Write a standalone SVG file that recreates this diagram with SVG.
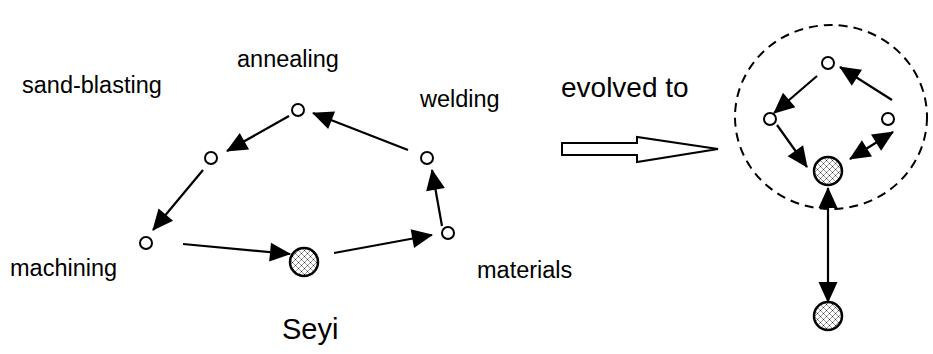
<svg xmlns="http://www.w3.org/2000/svg" width="933" height="354" viewBox="0 0 933 354">
  <style>
    .lbl { font-family: "Liberation Sans", Arial, sans-serif; font-size: 23.5px; fill: #000; }
    .node { fill: #fff; stroke: #000; stroke-width: 2; }
    .hub { fill: url(#dots); stroke: #000; stroke-width: 2.5; }
    .edge { fill: none; stroke: #000; stroke-width: 2.2; marker-end: url(#head); }
    .both { marker-start: url(#head); }
  </style>
  <defs>
    <marker id="head" markerUnits="userSpaceOnUse" markerWidth="21" markerHeight="19" refX="20" refY="9.5" orient="auto-start-reverse" overflow="visible">
      <path d="M0,0 L21,9.5 L0,19 z" fill="#000"/>
    </marker>
    <pattern id="dots" patternUnits="userSpaceOnUse" width="6" height="6">
      <rect width="6" height="6" fill="#fff"/>
      <path d="M0.5,0.5 L2.5,2.5 M2.5,0.5 L0.5,2.5 M3.5,3.5 L5.5,5.5 M5.5,3.5 L3.5,5.5" stroke="#333" stroke-width="1"/>
    </pattern>
  </defs>

  <!-- labels -->
  <text class="lbl" x="22" y="93">sand-blasting</text>
  <text class="lbl" x="237" y="67">annealing</text>
  <text class="lbl" x="420" y="107">welding</text>
  <text class="lbl" x="10" y="276">machining</text>
  <text class="lbl" x="477" y="278">materials</text>
  <text class="lbl" x="282" y="339" style="font-size:29px">Seyi</text>
  <text class="lbl" x="561" y="97" style="font-size:28px">evolved to</text>

  <!-- connectors -->
  <g id="connectors">
    <line class="edge" x1="289" y1="116" x2="227" y2="151"/>
    <line class="edge" x1="203" y1="170" x2="153" y2="230"/>
    <line class="edge" x1="183" y1="244" x2="290" y2="254"/>
    <line class="edge" x1="334" y1="253" x2="432" y2="235"/>
    <line class="edge" x1="442" y1="226" x2="432" y2="170"/>
    <line class="edge" x1="408" y1="150" x2="313" y2="113"/>
    <line class="edge" x1="892" y1="100" x2="840" y2="67"/>
    <line class="edge" x1="817" y1="76" x2="774" y2="113"/>
    <line class="edge" x1="777" y1="125" x2="807" y2="167"/>
    <line class="edge both" x1="850" y1="159" x2="893" y2="132"/>
    <line class="edge both" x1="828" y1="188" x2="828" y2="302"/>
    <!-- hollow "evolved to" arrow -->
    <path d="M562,143 L637,143 L637,137 L718,149 L637,162 L637,155 L562,155 z" fill="#fff" stroke="#000" stroke-width="2"/>
  </g>

  <!-- left network -->
  <g id="annealing"><circle class="node" cx="298" cy="110" r="6"/></g>
  <g id="sand-blasting"><circle class="node" cx="211" cy="158" r="6"/></g>
  <g id="machining"><circle class="node" cx="146" cy="243" r="6"/></g>
  <g id="seyi"><circle class="hub" cx="304" cy="262" r="14"/></g>
  <g id="materials"><circle class="node" cx="448" cy="233" r="6"/></g>
  <g id="welding"><circle class="node" cx="427" cy="158" r="6"/></g>

  <!-- evolved network -->
  <g id="cluster"><ellipse cx="831" cy="117" rx="96" ry="92" fill="none" stroke="#000" stroke-width="2" stroke-dasharray="9,6"/></g>
  <g id="r-top"><circle class="node" cx="828" cy="63" r="6"/></g>
  <g id="r-left"><circle class="node" cx="770" cy="119" r="6"/></g>
  <g id="r-right"><circle class="node" cx="888" cy="119" r="6"/></g>
  <g id="r-hub"><circle class="hub" cx="828" cy="171" r="14"/></g>
  <g id="r-bottom"><circle class="hub" cx="828" cy="316" r="14"/></g>
</svg>
